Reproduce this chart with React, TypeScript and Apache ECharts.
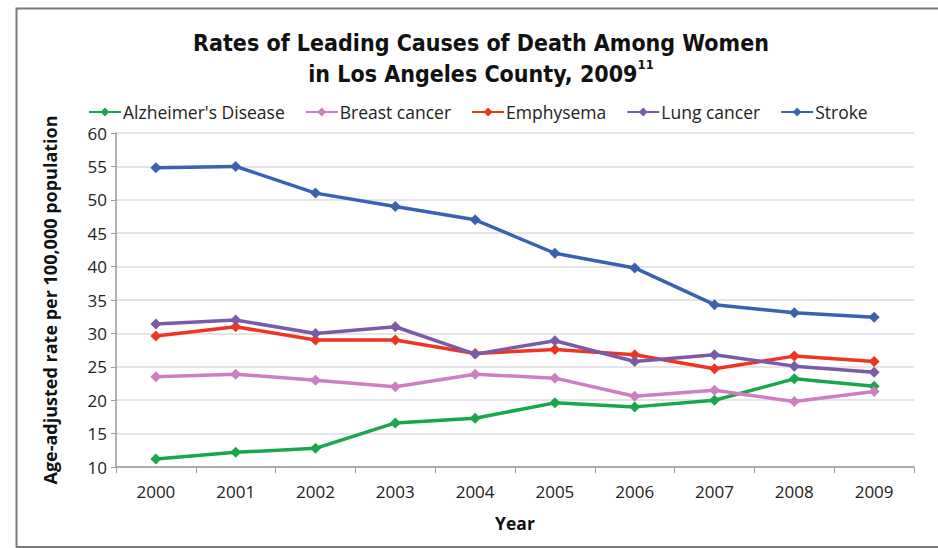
import React, { useEffect, useRef } from "react";
import * as echarts from "echarts";

const years = ["2000", "2001", "2002", "2003", "2004", "2005", "2006", "2007", "2008", "2009"];
const alzheimers = [11.2, 12.2, 12.8, 16.6, 17.3, 19.6, 19.0, 20.0, 23.2, 22.1];
const breastCancer = [23.5, 23.9, 23.0, 22.0, 23.9, 23.3, 20.6, 21.5, 19.8, 21.3];
const emphysema = [29.6, 31.0, 29.0, 29.0, 27.0, 27.6, 26.8, 24.7, 26.6, 25.8];
const lungCancer = [31.4, 32.0, 30.0, 31.0, 26.9, 28.9, 25.8, 26.8, 25.1, 24.2];
const stroke = [54.8, 55.0, 51.0, 49.0, 47.0, 42.0, 39.8, 34.3, 33.1, 32.4];

const seriesNames = ["Alzheimer's Disease", "Breast cancer", "Emphysema", "Lung cancer", "Stroke"];
const seriesData = [alzheimers, breastCancer, emphysema, lungCancer, stroke];
const seriesColors = ["#1aa64b", "#cc7fc1", "#ee3524", "#7a5ba8", "#3b61b1"];

const FONT = "'Open Sans', 'Noto Sans', sans-serif";
const TITLE_FONT = "'DejaVu Sans Condensed', 'Open Sans', sans-serif";

export default function App() {
  const ref = useRef<HTMLDivElement>(null);
  useEffect(() => {
    if (!ref.current) return;
    const chart = echarts.init(ref.current, null, { renderer: "svg" });
    chart.setOption({
      animation: false,
      backgroundColor: "#ffffff",
      textStyle: { fontFamily: FONT },
      title: {
        text: "Rates of Leading Causes of Death Among Women\nin Los Angeles County, 2009{sup|11}",
        left: 476,
        textAlign: "center",
        top: 22,
        textStyle: {
          fontFamily: TITLE_FONT,
          fontWeight: "bold",
          fontSize: 23,
          lineHeight: 31,
          color: "#111",
          rich: {
            sup: {
              fontFamily: TITLE_FONT,
              fontWeight: "bold",
              fontSize: 13,
              verticalAlign: "top",
              lineHeight: 16,
              padding: [0, 0, 10, 0],
              color: "#111",
            },
          },
        },
      },
      legend: {
        top: 98,
        left: 83,
        itemWidth: 32,
        itemHeight: 11,
        itemGap: 20,
        data: seriesNames,
        textStyle: { fontFamily: FONT, fontSize: 17.5, color: "#222", padding: [0, 0, 0, -3] },
      },
      grid: { left: 116, top: 133, right: 24, bottom: 81, containLabel: false },
      xAxis: {
        type: "category",
        data: years,
        boundaryGap: true,
        name: "Year",
        nameLocation: "middle",
        nameGap: 47,
        nameTextStyle: { fontFamily: FONT, fontWeight: "bold", fontSize: 17.5, color: "#111" },
        axisLine: { lineStyle: { color: "#9a9a9a", width: 1.5 } },
        axisTick: { show: true, alignWithLabel: false, length: 6, lineStyle: { color: "#9a9a9a" } },
        axisLabel: { fontFamily: FONT, fontSize: 17, color: "#222", margin: 16 },
      },
      yAxis: {
        type: "value",
        min: 10,
        max: 60,
        interval: 5,
        name: "Age-adjusted rate per 100,000 population",
        nameLocation: "middle",
        nameGap: 57,
        nameTextStyle: { fontFamily: FONT, fontWeight: "bold", fontSize: 18, color: "#111" },
        axisLine: { show: true, lineStyle: { color: "#9a9a9a", width: 1.5 } },
        axisTick: { show: true, length: 5, lineStyle: { color: "#9a9a9a" } },
        axisLabel: { fontFamily: FONT, fontSize: 17, color: "#222", margin: 9 },
        splitLine: { lineStyle: { color: "#dcdcdc", width: 1.5 } },
      },
      series: seriesNames.map((name, i) => ({
        name,
        type: "line",
        data: seriesData[i],
        symbol: "diamond",
        symbolSize: 11,
        showSymbol: true,
        lineStyle: { color: seriesColors[i], width: 3.5 },
        itemStyle: { color: seriesColors[i] },
        z: 2 + i,
      })),
      graphic: [
        {
          type: "polyline",
          shape: { points: [[16.5, 547.5], [16.5, 8.5], [938, 8.5]] },
          style: { stroke: "#7a7a7a", lineWidth: 2, fill: "none" },
          silent: true,
        },
        {
          type: "line",
          shape: { x1: 16, y1: 547, x2: 938, y2: 547 },
          style: { stroke: "#7a7a7a", lineWidth: 2 },
          silent: true,
        },
      ],
    });
    return () => chart.dispose();
  }, []);
  return (
    <div
      ref={ref}
      style={{ position: "fixed", left: 0, top: 0, width: 938, height: 548, background: "#fff" }}
    />
  );
}
